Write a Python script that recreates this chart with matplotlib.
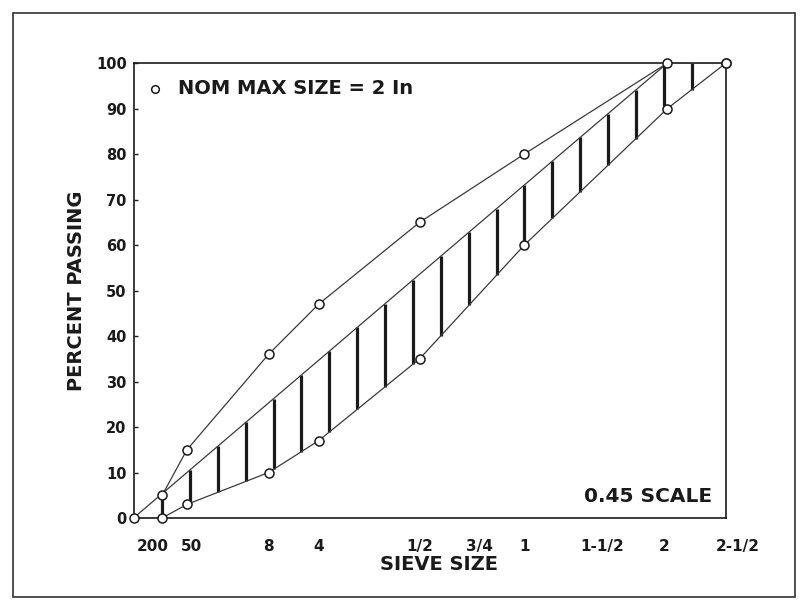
import numpy as np
import matplotlib
matplotlib.use("Agg")
import matplotlib.pyplot as plt
from matplotlib.patches import Rectangle
from matplotlib.transforms import ScaledTranslation

# Sieve sizes (mm) and their labels
sieve_labels = ["200", "50", "8", "4", "1/2", "3/4", "1", "1-1/2", "2", "2-1/2"]
sieve_mm = [0.075, 0.300, 2.36, 4.75, 12.5, 19.0, 25.0, 37.5, 50.0, 63.0]

# Control points (percent passing) for 2 in nominal maximum size
upper_mm = [0.075, 0.300, 2.36, 4.75, 12.5, 25.0, 50.0, 63.0]
upper_pct = [5, 15, 36, 47, 65, 80, 100, 100]
lower_mm = [0.0, 0.075, 0.300, 2.36, 4.75, 12.5, 25.0, 50.0, 63.0]
lower_pct = [0, 0, 3, 10, 17, 35, 60, 90, 100]

# Maximum density line: origin to nominal maximum size at 100 %
maxden_mm = [0.0, 50.0]
maxden_pct = [0, 100]

POWER = 0.45


def fwd(x):
    x = np.asarray(x, dtype=float)
    return np.sign(x) * np.abs(x) ** POWER


def inv(y):
    y = np.asarray(y, dtype=float)
    return np.sign(y) * np.abs(y) ** (1.0 / POWER)


plt.rcParams["font.family"] = ["DejaVu Sans"]
plt.rcParams["font.weight"] = "bold"

fig = plt.figure(figsize=(8.02, 6.06), dpi=100)
ax = fig.add_axes([0.1665, 0.1452, 0.7387, 0.7508])
ax.set_xscale("function", functions=(fwd, inv))
ax.set_xlim(0, 63.0)
ax.set_ylim(0, 100)

ink = "#1a1a1a"
thin = "#3a3a3a"

# Vertical hatching between the maximum density line and the lower limit
step = 0.3035
hatch_t = fwd(0.075) + step * np.arange(20)
md_t = fwd(maxden_mm)
lo_t = fwd(lower_mm)
top = np.minimum(np.interp(hatch_t, md_t, maxden_pct, right=100), 100)
bot = np.interp(hatch_t, lo_t, lower_pct)
ax.vlines(inv(hatch_t), bot, top, color=ink, lw=2.3, zorder=2)

# Limit lines and maximum density line
ax.plot(upper_mm, upper_pct, color=thin, lw=0.9, zorder=3)
ax.plot(lower_mm, lower_pct, color=thin, lw=0.9, zorder=3)
ax.plot(maxden_mm, maxden_pct, color=thin, lw=0.9, zorder=3)

# Control point markers
ax.plot(upper_mm, upper_pct, "o", ms=6.5, mfc="white", mec=ink, mew=1.1,
        zorder=4, clip_on=False)
ax.plot(lower_mm, lower_pct, "o", ms=6.5, mfc="white", mec=ink, mew=1.1,
        zorder=4, clip_on=False)

# Axes styling
for s in ax.spines.values():
    s.set_linewidth(1.2)
    s.set_color(ink)

ax.set_yticks(np.arange(0, 101, 10))
ax.tick_params(axis="y", direction="in", length=3, width=1, pad=5,
               labelsize=10.5, colors=ink)
ax.set_xticks(sieve_mm)
ax.set_xticklabels(sieve_labels)
ax.tick_params(axis="x", length=0, pad=15, labelsize=11, colors=ink)
ax.xaxis.set_minor_locator(matplotlib.ticker.NullLocator())

shifts = {"200": -9, "50": 4, "2": -3, "2-1/2": 12}
for lab in ax.get_xticklabels():
    dx = shifts.get(lab.get_text(), 0)
    if dx:
        lab.set_transform(lab.get_transform()
                          + ScaledTranslation(dx / 100, 0, fig.dpi_scale_trans))

ax.set_xlabel("SIEVE SIZE", fontsize=14, fontweight="bold", color=ink)
ax.xaxis.set_label_coords(0.516, -0.103)
ax.xaxis.label.set_va("center")
ax.set_ylabel("PERCENT PASSING", fontsize=14, fontweight="bold", color=ink)
ax.yaxis.set_label_coords(-0.097, 0.5)
ax.yaxis.label.set_va("center")

# Key and scale note
ax.plot([0.036], [0.943], "o", ms=5.5, mfc="white", mec=ink, mew=1.1,
        transform=ax.transAxes)
ax.text(0.0743, 0.943, "NOM MAX SIZE = 2 In", transform=ax.transAxes,
        ha="left", va="center", fontsize=14, fontweight="bold", color=ink)
ax.text(0.976, 0.048, "0.45 SCALE", transform=ax.transAxes,
        ha="right", va="center", fontsize=14.5, fontweight="bold", color=ink)

# Outer border
fig.patches.append(Rectangle((0.0162, 0.0149), 0.975, 0.9636,
                             transform=fig.transFigure, fill=False,
                             edgecolor="#333333", lw=1.2))

fig.savefig("out.png", dpi=100, facecolor="white")
